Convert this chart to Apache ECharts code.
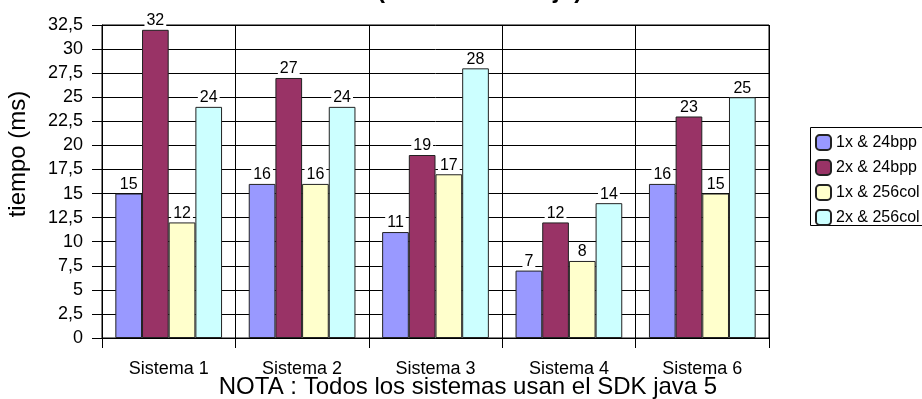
<!DOCTYPE html>
<html>
<head>
<meta charset="utf-8">
<script src="https://cdn.jsdelivr.net/npm/echarts@6/dist/echarts.min.js"></script>
<style>
html, body { margin: 0; padding: 0; background: #fff; }
#chart { width: 922px; height: 399px; }
</style>
</head>
<body>
<div id="chart"></div>
<script>
var categories = ['Sistema 1', 'Sistema 2', 'Sistema 3', 'Sistema 4', 'Sistema 6'];
var seriesNames = ['1x & 24bpp', '2x & 24bpp', '1x & 256col', '2x & 256col'];
var x1_24bpp = [15, 16, 11, 7, 16];
var x2_24bpp = [32, 27, 19, 12, 23];
var x1_256col = [12, 16, 17, 8, 15];
var x2_256col = [24, 24, 28, 14, 25];
var colors = ['#9999FF', '#993366', '#FFFFCC', '#CCFFFF'];

var font = 'Liberation Sans, Arial, sans-serif';
var myChart = echarts.init(document.getElementById('chart'));

function barSeries(i, data) {
    return {
        name: seriesNames[i],
        type: 'bar',
        data: data,
        barGap: '0%',
        barCategoryGap: '20%',
        itemStyle: { color: colors[i], borderColor: '#222', borderWidth: 1 },
        label: {
            show: true,
            position: 'top',
            distance: 1,
            color: '#000',
            fontFamily: font,
            fontSize: 16,
            backgroundColor: '#fff',
            padding: [1, 2, 0, 2]
        }
    };
}

var option = {
    animation: false,
    grid: { left: 102, right: 153, top: 25, bottom: 61, show: true, borderColor: '#000', borderWidth: 1 },
    legend: {
        orient: 'vertical',
        left: 810,
        top: 127,
        itemWidth: 15,
        itemHeight: 15,
        itemGap: 8,
        padding: [7, 5, 7, 5],
        textStyle: { fontFamily: font, fontSize: 16, color: '#000' },
        data: seriesNames
    },
    xAxis: {
        type: 'category',
        data: categories,
        axisLine: { lineStyle: { color: '#000' } },
        axisTick: { show: true, length: 10, lineStyle: { color: '#000' } },
        splitLine: { show: true, lineStyle: { color: '#000' } },
        axisLabel: { fontFamily: font, fontSize: 18, color: '#000', margin: 22 }
    },
    yAxis: {
        type: 'value',
        min: 0,
        max: 32.5,
        interval: 2.5,
        axisLine: { show: true, lineStyle: { color: '#000' } },
        axisTick: { show: true, length: 10, lineStyle: { color: '#000' } },
        splitLine: { show: true, lineStyle: { color: '#000' } },
        axisLabel: {
            fontFamily: font, fontSize: 18, color: '#000', margin: 19,
            formatter: function (v) { return String(v).replace('.', ','); }
        }
    },
    graphic: [
        {
            // legend frame runs past the right edge like in the original
            type: 'rect', z: -1,
            shape: { x: 810.5, y: 127.5, width: 200, height: 98 },
            style: { fill: 'none', stroke: '#000', lineWidth: 1 }
        },
        {
            type: 'text', left: 225, top: -21,
            style: { text: 'Rendimiento (media del dibujo)', font: 'bold 24px ' + font, fill: '#000' }
        },
        {
            type: 'text', x: 18, y: 154, rotation: Math.PI / 2,
            style: { text: 'tiempo (ms)', font: '24px ' + font, fill: '#000', align: 'center', verticalAlign: 'middle' }
        },
        {
            type: 'text', x: 468, y: 387,
            style: { text: 'NOTA : Todos los sistemas usan el SDK java 5', font: '24px ' + font, fill: '#000', align: 'center', verticalAlign: 'middle' }
        }
    ],
    series: [
        barSeries(0, x1_24bpp),
        barSeries(1, x2_24bpp),
        barSeries(2, x1_256col),
        barSeries(3, x2_256col)
    ]
};

myChart.setOption(option);
window.addEventListener('resize', function () { myChart.resize(); });
</script>
</body>
</html>
